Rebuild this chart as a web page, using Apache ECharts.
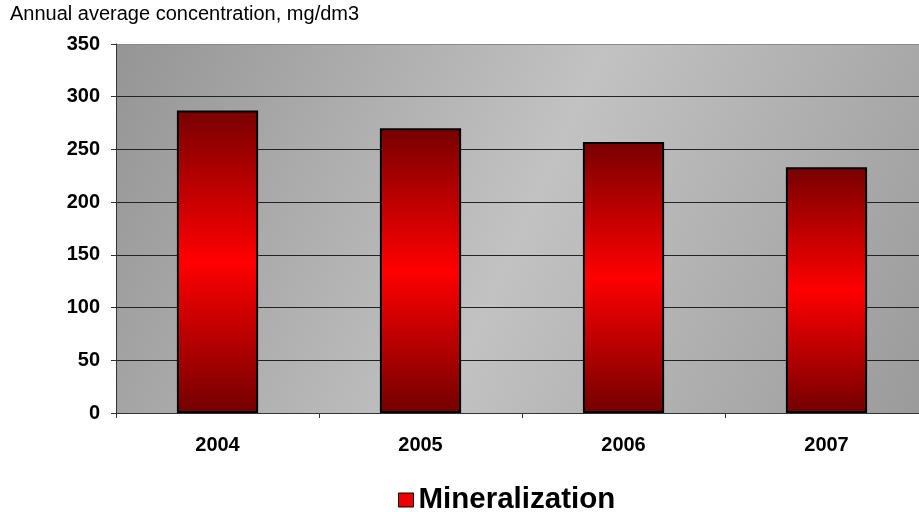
<!DOCTYPE html>
<html>
<head>
<meta charset="utf-8">
<script src="https://cdn.jsdelivr.net/npm/echarts@6/dist/echarts.min.js"></script>
<style>
  html, body { margin: 0; padding: 0; background: #fff; }
  #chart { width: 919px; height: 512px; }
</style>
</head>
<body>
<div id="chart"></div>
<script>
const years = ['2004', '2005', '2006', '2007'];
const mineralization = [287, 270, 257, 233];
const yTicks = [0, 50, 100, 150, 200, 250, 300, 350];

const chart = echarts.init(document.getElementById('chart'));

const font = 'Arial, "Liberation Sans", sans-serif';

const option = {
  animation: false,
  textStyle: { fontFamily: font },
  title: {
    text: 'Annual average concentration, mg/dm3',
    left: 10,
    top: 4,
    padding: 0,
    textStyle: { fontSize: 20, fontWeight: 'normal', color: '#000', fontFamily: font }
  },
  legend: {
    left: 393,
    top: 480,
    itemWidth: 15,
    itemHeight: 14,
    itemGap: 8,
    icon: 'rect',
    textStyle: { fontSize: 29.5, fontWeight: 'bold', color: '#000', fontFamily: font },
    data: [{
      name: 'Mineralization',
      itemStyle: { color: '#ee0000', borderColor: '#000', borderWidth: 1 }
    }]
  },
  grid: {
    left: 116,
    width: 812,
    top: 44,
    height: 369,
    outerBoundsMode: 'none',
    containLabel: false,
    show: true,
    borderWidth: 0,
    backgroundColor: new echarts.graphic.LinearGradient(0, 0, 1, 1, [
      { offset: 0, color: '#959595' },
      { offset: 0.5, color: '#c2c2c2' },
      { offset: 1, color: '#9a9a9a' }
    ])
  },
  xAxis: {
    type: 'category',
    data: years,
    axisLine: { lineStyle: { color: '#333', width: 1 } },
    axisTick: { show: true, length: 5, lineStyle: { color: '#333' } },
    axisLabel: { fontSize: 20, fontWeight: 'bold', color: '#000', margin: 22, fontFamily: font }
  },
  yAxis: {
    type: 'value',
    min: yTicks[0],
    max: yTicks[yTicks.length - 1],
    interval: 50,
    axisLine: { show: true, lineStyle: { color: '#333', width: 1 } },
    axisTick: { show: true, length: 5, lineStyle: { color: '#333' } },
    axisLabel: { fontSize: 20, fontWeight: 'bold', color: '#000', margin: 16, fontFamily: font },
    splitLine: {
      show: true,
      lineStyle: { color: ['#222', '#222', '#222', '#222', '#222', '#222', '#222', '#8a8a8a'], width: 1 }
    }
  },
  series: [{
    name: 'Mineralization',
    type: 'bar',
    data: mineralization,
    barWidth: '40%',
    itemStyle: {
      borderColor: '#000',
      borderWidth: 2,
      color: new echarts.graphic.LinearGradient(0, 0, 0, 1, [
        { offset: 0, color: '#780000' },
        { offset: 0.5, color: '#ff0000' },
        { offset: 1, color: '#730000' }
      ])
    }
  }]
};

chart.setOption(option);
</script>
</body>
</html>
